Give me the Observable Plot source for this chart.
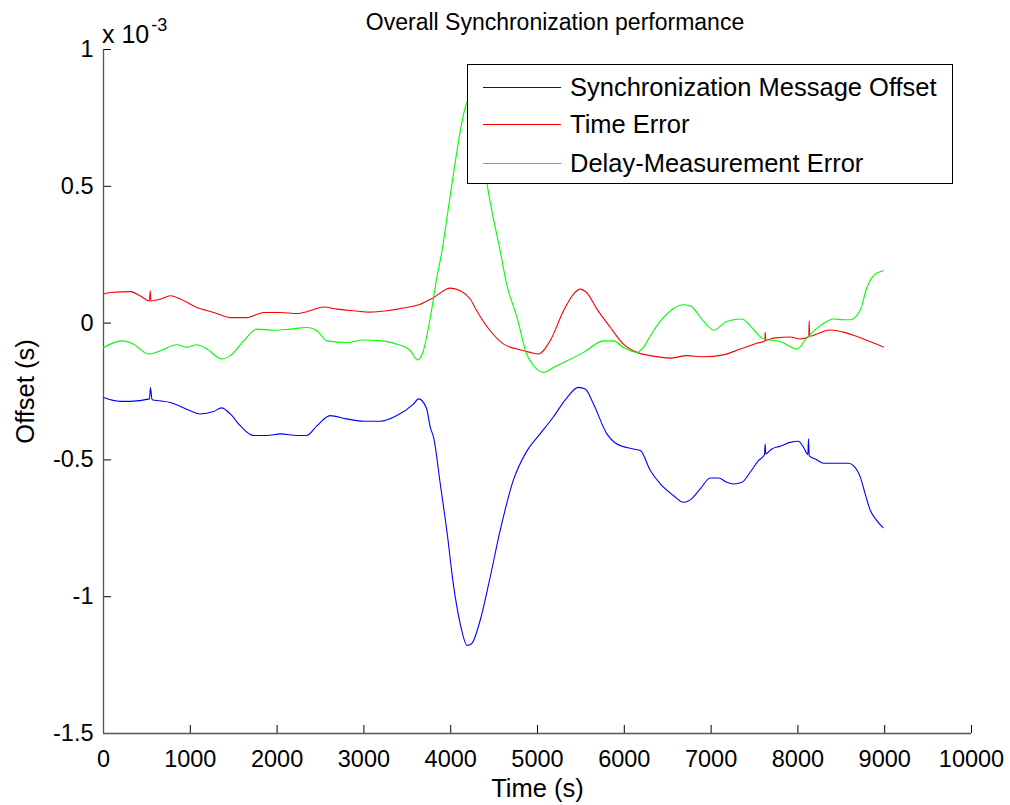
<!DOCTYPE html>
<html>
<head>
<meta charset="utf-8">
<script src="https://cdn.jsdelivr.net/npm/d3@7"></script>
<script src="https://cdn.jsdelivr.net/npm/@observablehq/plot@0.6"></script>
<style>
  html, body { margin: 0; padding: 0; background: #fff; }
  body { font-family: "Liberation Sans", Arial, Helvetica, sans-serif; color: #000; }
  #wrap { position: relative; width: 1010px; height: 805px; overflow: hidden; }
  #title { position: absolute; left: 0; width: 1110px; top: 9px; text-align: center; font-size: 23px; line-height: 26px; white-space: nowrap; }
  #mult { position: absolute; left: 102px; top: 14px; font-size: 25px; line-height: 28px; white-space: nowrap; }
  #mult sup { font-size: 18px; position: relative; top: -3px; margin-left: 2px; }
  #legend { position: absolute; left: 467px; top: 64px; width: 486px; height: 120px; background: #fff; border: 1.6px solid #000; box-sizing: border-box; }
  .lrow { position: absolute; left: 0; height: 32px; display: flex; align-items: center; font-size: 25.5px; white-space: nowrap; }
  .lrow .sw { display: inline-block; width: 78px; height: 0; border-top: 1.2px solid; margin-left: 15px; margin-right: 9px; }
</style>
</head>
<body>
<div id="wrap"></div>
<script>
// ---------- data (offsets in units of 1e-3 s) ----------
const xTicks = [0, 1000, 2000, 3000, 4000, 5000, 6000, 7000, 8000, 9000, 10000];
const yTicks = [-1.5, -1, -0.5, 0, 0.5, 1];
const seriesNames = ["Synchronization Message Offset", "Time Error", "Delay-Measurement Error"];
const seriesColors = ["#0000ff", "#ff0000", "#00ff00"];

const syncTime = [0, 190, 310, 530, 540, 560, 650, 770, 1000, 1110, 1270, 1360, 1460, 1575, 1730, 1880, 2040, 2230, 2340, 2460, 2610, 2800, 3000, 3190, 3380, 3570, 3630, 3720, 3765, 3805, 3880, 3960, 4030, 4110, 4190, 4240, 4340, 4455, 4570, 4720, 4880, 5030, 5180, 5340, 5470, 5550, 5645, 5800, 5915, 6105, 6185, 6300, 6415, 6565, 6680, 6760, 6875, 6990, 7085, 7180, 7260, 7355, 7450, 7545, 7615, 7623, 7630, 7700, 7795, 7910, 8005, 8065, 8115, 8122, 8130, 8220, 8295, 8450, 8585, 8640, 8720, 8775, 8835, 8910, 8980];
const syncOffset = [-0.272, -0.286, -0.286, -0.277, -0.236, -0.28, -0.284, -0.29, -0.32, -0.332, -0.323, -0.31, -0.332, -0.375, -0.411, -0.411, -0.405, -0.411, -0.411, -0.375, -0.338, -0.35, -0.359, -0.359, -0.338, -0.296, -0.277, -0.31, -0.381, -0.42, -0.588, -0.77, -0.953, -1.099, -1.178, -1.172, -1.086, -0.928, -0.758, -0.576, -0.466, -0.405, -0.344, -0.272, -0.235, -0.241, -0.296, -0.405, -0.442, -0.46, -0.466, -0.539, -0.588, -0.63, -0.655, -0.646, -0.606, -0.566, -0.566, -0.582, -0.588, -0.582, -0.545, -0.503, -0.48, -0.442, -0.478, -0.46, -0.45, -0.436, -0.432, -0.454, -0.48, -0.423, -0.484, -0.5, -0.512, -0.512, -0.512, -0.521, -0.564, -0.624, -0.685, -0.722, -0.748];

const timeErrTime = [0, 77, 310, 420, 530, 538, 546, 650, 770, 885, 1075, 1270, 1460, 1650, 1845, 2035, 2230, 2380, 2535, 2690, 2880, 3070, 3265, 3455, 3650, 3800, 3995, 4110, 4225, 4300, 4455, 4610, 4765, 4915, 5010, 5145, 5300, 5415, 5490, 5570, 5685, 5840, 5990, 6145, 6300, 6530, 6720, 6910, 7140, 7335, 7525, 7620, 7623, 7630, 7720, 7910, 8025, 8125, 8130, 8135, 8220, 8370, 8525, 8755, 8985];
const timeErr = [0.106, 0.112, 0.115, 0.1, 0.081, 0.118, 0.081, 0.087, 0.1, 0.088, 0.057, 0.039, 0.02, 0.02, 0.039, 0.039, 0.035, 0.045, 0.059, 0.051, 0.045, 0.04, 0.045, 0.055, 0.069, 0.093, 0.128, 0.118, 0.088, 0.045, -0.028, -0.077, -0.095, -0.107, -0.113, -0.065, 0.045, 0.106, 0.124, 0.11, 0.051, -0.016, -0.077, -0.107, -0.119, -0.128, -0.119, -0.123, -0.116, -0.095, -0.074, -0.065, -0.034, -0.063, -0.055, -0.051, -0.058, -0.05, 0.008, -0.048, -0.04, -0.025, -0.033, -0.058, -0.087];

const delayTime = [0, 210, 345, 520, 655, 845, 960, 1075, 1190, 1365, 1460, 1615, 1765, 1960, 2150, 2345, 2460, 2575, 2805, 2995, 3190, 3380, 3535, 3620, 3685, 3765, 3840, 3900, 3985, 4180, 4230, 4300, 4432, 4570, 4645, 4765, 4875, 4955, 5070, 5185, 5340, 5530, 5760, 5875, 5990, 6145, 6220, 6300, 6450, 6680, 6760, 6910, 7030, 7180, 7355, 7450, 7605, 7795, 7990, 8105, 8255, 8410, 8525, 8600, 8715, 8795, 8870, 8980];
const delayErr = [-0.089, -0.065, -0.077, -0.113, -0.101, -0.079, -0.089, -0.079, -0.095, -0.131, -0.119, -0.065, -0.022, -0.026, -0.022, -0.016, -0.028, -0.065, -0.071, -0.062, -0.065, -0.077, -0.101, -0.135, -0.101, 0.02, 0.166, 0.264, 0.446, 0.8, 0.83, 0.78, 0.483, 0.264, 0.142, 0.02, -0.113, -0.156, -0.18, -0.162, -0.138, -0.107, -0.065, -0.065, -0.089, -0.107, -0.089, -0.046, 0.02, 0.067, 0.063, 0.008, -0.026, 0.006, 0.015, -0.01, -0.058, -0.067, -0.095, -0.053, -0.01, 0.015, 0.012, 0.012, 0.045, 0.13, 0.173, 0.191];

// ---------- build table ----------
const rows = [];
syncTime.forEach((t, i) => rows.push({series: seriesNames[0], t, v: syncOffset[i]}));
timeErrTime.forEach((t, i) => rows.push({series: seriesNames[1], t, v: timeErr[i]}));
delayTime.forEach((t, i) => rows.push({series: seriesNames[2], t, v: delayErr[i]}));

const W = 1010, H = 805, mL = 103, mR = 39, mT = 49, mB = 72;
const innerW = W - mL - mR, innerH = H - mT - mB;

const chart = Plot.plot({
  width: W, height: H,
  marginLeft: mL, marginRight: mR, marginTop: mT, marginBottom: mB,
  style: { fontFamily: "'Liberation Sans', Arial, Helvetica, sans-serif", fontSize: "23.5px", color: "#000", background: "#fff", overflow: "visible" },
  x: { domain: [0, 10000] },
  y: { domain: [-1.5, 1] },
  color: { domain: seriesNames, range: seriesColors },
  marks: [
    Plot.axisX({ ticks: xTicks, tickSize: 0, tickPadding: 17, tickFormat: d => String(d), label: null }),
    Plot.axisX({ ticks: [], label: "Time (s)", labelAnchor: "center", labelArrow: "none", labelOffset: 63, fontSize: 25.5 }),
    Plot.axisY({ ticks: yTicks, tickSize: 0, tickPadding: 10, tickFormat: d => String(d), label: null }),
    Plot.axisY({ ticks: [], label: "Offset (s)", labelAnchor: "center", labelArrow: "none", labelOffset: 88, fontSize: 25.5 }),
    Plot.tickX(xTicks, { x: d => d, stroke: "#000", strokeWidth: 1, insetTop: innerH - 8 }),
    Plot.tickY(yTicks, { y: d => d, stroke: "#000", strokeWidth: 1, insetRight: innerW - 8 }),
    Plot.ruleY([-1.5], { stroke: "#555", strokeWidth: 1.3 }),
    Plot.ruleX([0], { stroke: "#555", strokeWidth: 1.3 }),
    Plot.line(rows, { x: "t", y: "v", z: "series", stroke: "series", strokeWidth: 1.1, curve: "monotone-x" })
  ]
});

const wrap = document.getElementById("wrap");
wrap.appendChild(chart);

const title = document.createElement("div");
title.id = "title";
title.textContent = "Overall Synchronization performance";
wrap.appendChild(title);

const mult = document.createElement("div");
mult.id = "mult";
mult.innerHTML = "x 10<sup>-3</sup>";
wrap.appendChild(mult);

const legend = document.createElement("div");
legend.id = "legend";
const rowTops = [6, 43, 82];
seriesNames.forEach((name, i) => {
  const r = document.createElement("div");
  r.className = "lrow";
  r.style.top = rowTops[i] + "px";
  const sw = document.createElement("span");
  sw.className = "sw";
  sw.style.borderTopColor = seriesColors[i];
  const tx = document.createElement("span");
  tx.textContent = name;
  r.appendChild(sw); r.appendChild(tx);
  legend.appendChild(r);
});
wrap.appendChild(legend);
</script>
</body>
</html>
